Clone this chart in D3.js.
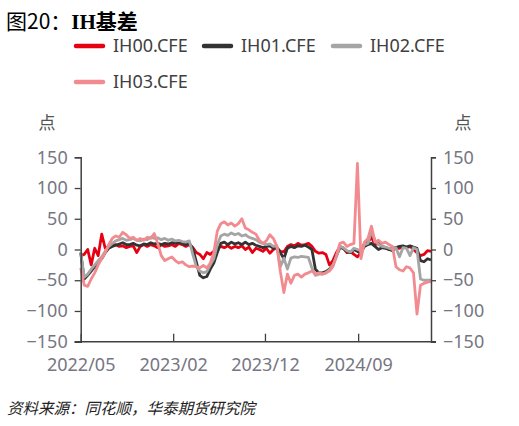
<!DOCTYPE html>
<html>
<head>
<meta charset="utf-8">
<script src="https://cdn.jsdelivr.net/npm/d3@7"></script>
<style>
body { margin: 0; background: #fff; }
</style>
</head>
<body>
<div id="chart-area"></div>
<script>
// IH basis chart
var mwidth = 519;
var mheight = 426;

var seriesNames = ["IH00.CFE", "IH01.CFE", "IH02.CFE", "IH03.CFE"];
var seriesColors = ["#e60012", "#333333", "#a5a5a5", "#f28b8f"];

var tickLabels = ["2022/05", "2023/02", "2023/12", "2024/09"];
var tickAt = [0, 26.4, 52.6, 79.2];
var yTicks = [150, 100, 50, 0, -50, -100, -150];

var ih00 = [-10, -8, 0, -25, 2, -10, 25, 2, 5, 7,
	8, 5, 6, 3, 5, 6, -5, 5, 8, 5,
	8, 6, 3, 8, 5, 6, 8, 5, 10, 8,
	5, 8, 3, -5, -8, -15, -5, -8, -3, 2,
	5, 3, 6, 2, 5, 3, 6, 0, 4, -5,
	2, 0, -3, 2, -6, 0, 3, -3, -4, 5,
	8, 6, 10, 7, 8, 10, 5, -3, -6, -5,
	-8, -25, -18, -5, 5, 2, -5, -3, -8, -12,
	-5, 10, 12, 20, 8, 10, 5, 3, 0, 2,
	3, 2, 5, 3, 5, 0, -5, -10, -8, -2,
	-3];

var ih01 = [-5, -48, -42, -35, -28, -20, -15, -5, 2, 5,
	7, 9, 11, 8, 8, 10, 7, 6, 9, 8,
	11, 9, 10, 8, 10, 9, 11, 10, 12, 10,
	8, 10, 2, -20, -42, -46, -44, -32, -22, -5,
	10, 12, 8, 12, 9, 11, 8, 12, 8, 10,
	7, 5, 3, 5, 6, 2, 3, -5, -15, 2,
	5, 3, 6, 5, 7, 4, 0, -32, -38, -38,
	-36, -32, -25, -10, 3, 2, -3, -5, 0, -3,
	-5, 5, 8, 10, 5, 0, 3, 2, 0, -2,
	3, 5, 6, 4, 6, 4, 2, -18, -20, -15,
	-17];

var ih02 = [-5, -45, -40, -32, -25, -18, -12, -3, 5, 10,
	14, 16, 18, 15, 16, 18, 15, 14, 17, 16,
	20, 18, 19, 16, 18, 15, 17, 14, 15, 13,
	12, 14, -8, -28, -35, -38, -36, -25, -15, 8,
	22, 25, 23, 27, 24, 26, 22, 24, 20, 18,
	16, 12, 10, 8, 9, 5, 6, -28, -14, -32,
	-14, -12, -13, -11, -12, -13, -30, -42, -40, -40,
	-38, -33, -25, -12, 5, 3, -2, -4, 2, 0,
	-2, 8, 10, 30, 15, 8, 5, 4, 2, 0,
	3, -12, 3, 2, -10, 3, 0, -48, -50, -50,
	-50];

var ih03 = [-30, -58, -60, -48, -38, -25, -15, -5, 8, 18,
	22, 20, 28, 24, 18, 20, 15, 18, 15, 20,
	18, 26, 10, -10, -18, -15, -12, -18, -22, -20,
	-25, -28, -27, -28, -30, -26, -30, -22, -5, 30,
	42, 45, 40, 43, 38, 42, 50, 35, 32, 28,
	25, 15, 10, 14, 24, 18, 5, -36, -70, -40,
	-55, -42, -40, -45, -40, -38, -35, -40, -38, -40,
	-38, -35, -28, -10, 10, 12, 5, 8, 10, 140,
	-15, 12, 18, 38, 12, 15, 10, 12, 8, 5,
	-28, -33, -35, -28, -30, -38, -105, -58, -55, -53,
	-52];

var allSeries = [ih00, ih01, ih02, ih03];

var svg = d3.select("#chart-area").append("svg")
	.attr("width", mwidth)
	.attr("height", mheight)
	.style("font-family", "'Noto Sans', 'Noto Sans CJK SC', sans-serif");

var plotLeft = 80.7, plotRight = 431, plotTop = 157.3, plotBottom = 341.7;

var x = d3.scaleLinear()
	.domain([0, ih00.length - 1])
	.range([plotLeft, plotRight]);

var y = d3.scaleLinear()
	.domain([-150, 150])
	.range([plotBottom, plotTop]);

// lines
var line = d3.line()
	.x((d, i) => { return x(i); })
	.y((d) => { return y(d); });

svg.selectAll("path.series")
	.data(allSeries)
	.enter()
	.append("path")
		.attr("class", "series")
		.attr("d", line)
		.attr("fill", "none")
		.attr("stroke", (d, i) => { return seriesColors[i]; })
		.attr("stroke-width", 2.8)
		.attr("stroke-linejoin", "round");

// axes
var axisColor = "#404040";
var labelColor = "#767682";

var leftAxis = d3.axisLeft(y).tickValues(yTicks).tickSize(6).tickPadding(7);
var rightAxis = d3.axisRight(y).tickValues(yTicks).tickSize(5).tickPadding(7);
var bottomAxis = d3.axisBottom(x)
	.tickValues(tickAt)
	.tickSize(-8)
	.tickPadding(17)
	.tickFormat((d, i) => { return tickLabels[i]; });

var gl = svg.append("g")
	.attr("transform", "translate(" + plotLeft + ",0)")
	.call(leftAxis);
var gr = svg.append("g")
	.attr("transform", "translate(" + plotRight + ",0)")
	.call(rightAxis);
var gb = svg.append("g")
	.attr("transform", "translate(0," + plotBottom + ")")
	.call(bottomAxis);

[gl, gr, gb].forEach((g) => {
	g.select(".domain").attr("stroke", axisColor).attr("stroke-width", 1.5);
	g.selectAll(".tick line").attr("stroke", axisColor).attr("stroke-width", 1.3);
	g.selectAll(".tick text")
		.attr("font-size", "18px")
		.attr("font-family", "'Noto Sans', sans-serif")
		.style("fill", labelColor);
});
gb.select(".domain").attr("d", "M" + (plotLeft - 6) + ",0H" + (plotRight + 5));

// unit labels
svg.append("text")
	.attr("x", 47).attr("y", 129)
	.attr("text-anchor", "middle")
	.attr("font-size", "17px")
	.style("fill", "#555")
	.text("点");
svg.append("text")
	.attr("x", 463).attr("y", 129)
	.attr("text-anchor", "middle")
	.attr("font-size", "17px")
	.style("fill", "#555")
	.text("点");

// title
var title = svg.append("text")
	.attr("x", 6).attr("y", 29)
	.attr("font-size", "21px")
	.style("fill", "#000");
title.append("tspan")
	.attr("font-family", "'Noto Sans CJK SC', sans-serif")
	.text("图20：");
title.append("tspan")
	.attr("font-family", "'Liberation Serif', serif")
	.attr("font-weight", "bold")
	.text("IH");
title.append("tspan")
	.attr("font-family", "'Noto Sans CJK SC', sans-serif")
	.attr("font-weight", "bold")
	.text("基差");

// legend
var legendPos = [[75, 46], [203, 46], [332, 46], [75, 82]];
var legend = svg.selectAll("g.legend")
	.data(seriesNames)
	.enter()
	.append("g")
		.attr("class", "legend")
		.attr("transform", (d, i) => { return "translate(" + legendPos[i][0] + "," + legendPos[i][1] + ")"; });

legend.append("line")
	.attr("x1", 1).attr("x2", 28)
	.attr("y1", 0).attr("y2", 0)
	.attr("stroke", (d, i) => { return seriesColors[i]; })
	.attr("stroke-width", 4.5)
	.attr("stroke-linecap", "round");

legend.append("text")
	.attr("x", 38)
	.attr("y", 0)
	.attr("dy", "0.36em")
	.attr("font-size", "18px")
	.style("fill", "#404040")
	.text((d) => { return d; });

// source
svg.append("text")
	.attr("x", 7).attr("y", 414)
	.attr("font-size", "15.5px")
	.attr("font-style", "italic")
	.attr("font-family", "'Noto Sans CJK SC', sans-serif")
	.style("fill", "#222")
	.text("资料来源：同花顺，华泰期货研究院");
</script>
</body>
</html>
